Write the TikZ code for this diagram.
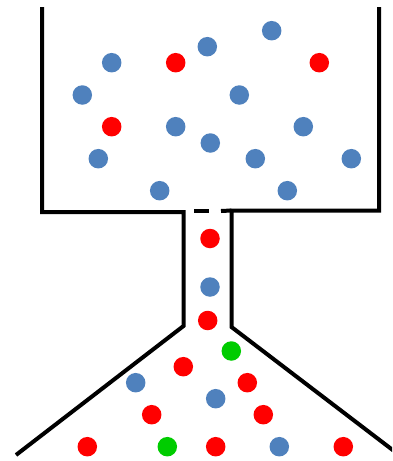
\documentclass[tikz,border=0pt]{standalone}
\begin{document}
\begin{tikzpicture}[x=1pt,y=-1pt,
  wall/.style={line width=4pt,line cap=butt,line join=miter},
  dot/.style={circle,inner sep=0pt,minimum size=19.5pt,draw=none},
  bdot/.style={dot,fill=blueb},
  rdot/.style={dot,fill=red},
  gdot/.style={dot,fill=greenb}]
\definecolor{blueb}{HTML}{4F81BD}
\definecolor{greenb}{HTML}{00CC00}
\useasboundingbox (0,0) rectangle (392,461);
\begin{scope}
\clip (0,0) rectangle (392,461);
% container walls
\coordinate (tl) at (42,7);
\coordinate (bl) at (42,212);
\coordinate (nl) at (183.5,212);
\coordinate (nlb) at (183.5,326);
\coordinate (fl) at (16,455);
\coordinate (tr) at (379,7);
\coordinate (br) at (379,210.5);
\coordinate (nr) at (231.5,210.5);
\coordinate (nrb) at (231.5,327);
\coordinate (fr) at (394,451);
\coordinate (d1) at (194,211);
\coordinate (d2) at (209,211);
\coordinate (d3) at (221,211);
\draw[wall] (tl) -- (bl) -- (nl) -- (nlb) -- (fl);
\draw[wall] (tr) -- (br) -- (nr) -- (nrb) -- (fr);
\draw[wall] (d1) -- (d2);
\draw[wall] (d3) -- (nr);
\end{scope}
% upper chamber particles
\node[bdot] (u1) at (271.7,30.7) {};
\node[bdot] (u2) at (207.3,46.7) {};
\node[bdot] (u3) at (111.7,62.7) {};
\node[rdot] (u4) at (175.7,62.7) {};
\node[rdot] (u5) at (319.3,62.7) {};
\node[bdot] (u6) at (82.3,95) {};
\node[bdot] (u7) at (239.3,95) {};
\node[rdot] (u8) at (111.7,126.7) {};
\node[bdot] (u9) at (175.7,126.7) {};
\node[bdot] (u10) at (303.3,126.7) {};
\node[bdot] (u11) at (210.3,143) {};
\node[bdot] (u12) at (98.3,158.7) {};
\node[bdot] (u13) at (255.3,158.7) {};
\node[bdot] (u14) at (351.3,158.7) {};
\node[bdot] (u15) at (159.7,190.7) {};
\node[bdot] (u16) at (287.3,190.7) {};
% neck particles
\node[rdot] (n1) at (210,238.5) {};
\node[bdot] (n2) at (210,287) {};
\node[rdot] (n3) at (207.7,320.5) {};
% lower chamber particles
\node[gdot] (l1) at (231.3,351) {};
\node[rdot] (l2) at (183.3,366.7) {};
\node[bdot] (l3) at (135.7,382.7) {};
\node[rdot] (l4) at (247.3,382.7) {};
\node[bdot] (l5) at (215.7,398.7) {};
\node[rdot] (l6) at (151.7,414.7) {};
\node[rdot] (l7) at (263.3,414.7) {};
\node[rdot] (l8) at (87.3,446.7) {};
\node[gdot] (l9) at (167.3,446.7) {};
\node[rdot] (l10) at (215.7,446.7) {};
\node[bdot] (l11) at (279.3,446.7) {};
\node[rdot] (l12) at (343.3,446.7) {};
\end{tikzpicture}
\end{document}
